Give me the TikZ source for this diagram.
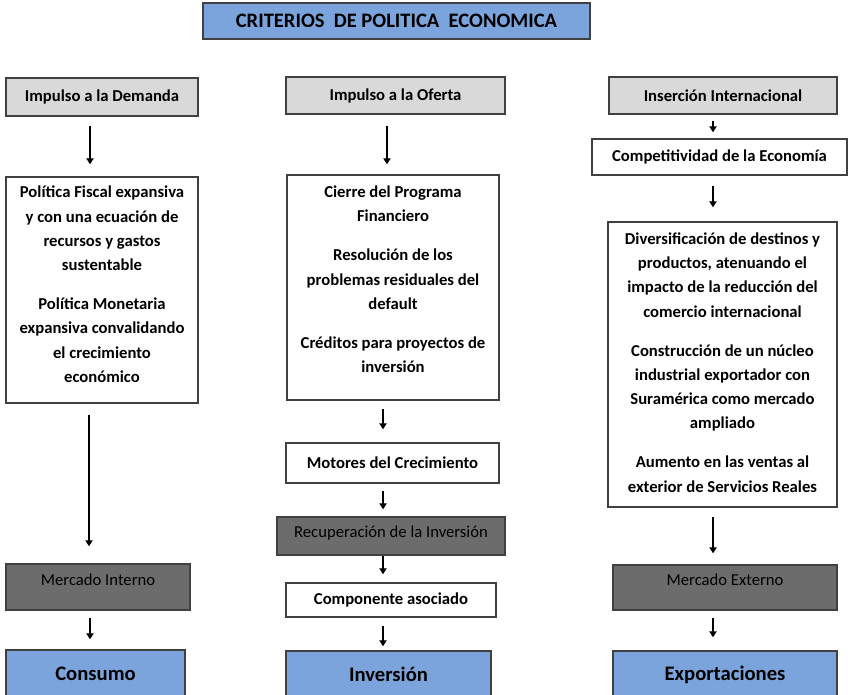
\documentclass[tikz,border=0pt]{standalone}
\usepackage{fontspec}
\setmainfont{Carlito}
\usepackage{xcolor}
\usetikzlibrary{arrows.meta, positioning}

\definecolor{boxline}{RGB}{64,64,64}
\definecolor{lightgray}{RGB}{217,217,217}
\definecolor{darkgray}{RGB}{108,108,108}
\definecolor{skyblue}{RGB}{124,164,220}

\begin{document}
\begin{tikzpicture}[
    x=0.75pt, y=-0.75pt,
    box/.style={rectangle, draw=boxline, line width=1.1pt, inner sep=2pt, align=center, text centered},
    titlebox/.style={box, fill=skyblue, font=\bfseries\fontsize{15.4}{18}\selectfont},
    headbox/.style={box, fill=lightgray, font=\bfseries\fontsize{12.5}{15}\selectfont},
    textbox/.style={box, fill=white, font=\bfseries\fontsize{12.5}{18.2}\selectfont},
    boxtext/.style={align=center, inner sep=0pt, font=\bfseries\fontsize{12.5}{18.2}\selectfont},
    darkbox/.style={box, fill=darkgray, text height=9pt, text depth=12pt, font=\fontsize{12.5}{15}\selectfont},
    resultbox/.style={box, fill=skyblue, font=\bfseries\fontsize{15.5}{18}\selectfont},
    arr/.style={-{Triangle[width=5.5pt,length=4.5pt]}, line width=0.9pt, draw=black}
]
\useasboundingbox (0,0) rectangle (848,694);
\clip (0,0) rectangle (848,694);

% Title
\node[titlebox, minimum width=290.25pt, minimum height=27pt] (title) at (396.5,21) {CRITERIOS\ \ DE POLITICA\ \ ECONOMICA};

% Demand column
\node[headbox, minimum width=144pt, minimum height=28.5pt] (dem) at (102,97) {Impulso a la Demanda};
\node[textbox, minimum width=144pt, minimum height=169.5pt] (dembox) at (102,290) {};
\node[boxtext] (demtext) at ([yshift=4.2pt]dembox.center) {Política Fiscal expansiva\\y con una ecuación de\\recursos y gastos\\sustentable\\[11pt]Política Monetaria\\expansiva convalidando\\el crecimiento\\económico};
\node[darkbox, minimum width=138pt, minimum height=34.5pt] (mint) at (98,587) {Mercado Interno};
\node[resultbox, minimum width=134.25pt, minimum height=36pt] (cons) at (95.5,674) {Consumo};

% Supply column
\node[headbox, minimum width=164.25pt, minimum height=27.75pt] (ofe) at (395.5,95.5) {Impulso a la Oferta};
\node[textbox, minimum width=159pt, minimum height=168.75pt] (ofebox) at (393,287.5) {};
\node[boxtext] (ofetext) at ([yshift=6.2pt]ofebox.center) {Cierre del Programa\\Financiero\\[11pt]Resolución de los\\problemas residuales del\\default\\[11pt]Créditos para proyectos de\\inversión};
\node[textbox, minimum width=159.75pt, minimum height=30pt] (mot) at (392.5,463) {Motores del Crecimiento};
\node[darkbox, minimum width=171pt, minimum height=28.5pt, text depth=7.5pt] (rec) at (391,536) {Recuperación de la Inversión};
\node[textbox, minimum width=157.5pt, minimum height=25.5pt] (comp) at (391,600) {Componente asociado};
\node[resultbox, minimum width=153.75pt, minimum height=35.25pt] (inv) at (388.5,674.5) {Inversión};

% International column
\node[headbox, minimum width=171pt, minimum height=27.75pt] (ins) at (723,95.5) {Inserción Internacional};
\node[textbox, minimum width=191.25pt, minimum height=27pt] (compet) at (719.5,157) {Competitividad de la Economía};
\node[textbox, minimum width=171.75pt, minimum height=213.75pt] (rbox) at (722.5,364.5) {};
\node[boxtext] (rtext) at ([yshift=1.5pt]rbox.center) {Diversificación de destinos y\\productos, atenuando el\\impacto de la reducción del\\comercio internacional\\[11pt]Construcción de un núcleo\\industrial exportador con\\Suramérica como mercado\\ampliado\\[11pt]Aumento en las ventas al\\exterior de Servicios Reales};
\node[darkbox, minimum width=168pt, minimum height=33.75pt] (mext) at (725,587.5) {Mercado Externo};
\node[resultbox, minimum width=168pt, minimum height=35.25pt] (exp) at (725,674.5) {Exportaciones};

% Arrows
\draw[arr, shorten <=6.75pt, shorten >=9pt] ([xshift=-9pt]dem.south) coordinate (a1) -- (a1 |- dembox.north);
\draw[arr, shorten <=8.25pt, shorten >=12.75pt] ([xshift=-9.75pt]dembox.south) coordinate (a2) -- (a2 |- mint.north);
\draw[arr, shorten <=5.25pt, shorten >=7.5pt] ([xshift=-6pt]mint.south) coordinate (a3) -- (a3 |- cons.north);
\draw[arr, shorten <=8.25pt, shorten >=7.5pt] ([xshift=-6.4pt]ofe.south) coordinate (b1) -- (b1 |- ofebox.north);
\draw[arr, shorten <=6pt, shorten >=9.75pt] ([xshift=-7.5pt]ofebox.south) coordinate (b2) -- (b2 |- mot.north);
\draw[arr, shorten <=5.25pt, shorten >=5.25pt] ([xshift=-7.1pt]mot.south) coordinate (b3) -- (b3 |- rec.north);
\draw[arr, shorten >=6pt] ([xshift=-6pt]rec.south) coordinate (b4) -- (b4 |- comp.north);
\draw[arr, shorten <=6pt, shorten >=3pt] ([xshift=-6pt]comp.south) coordinate (b5) -- (b5 |- inv.north);
\draw[arr, shorten <=4.5pt, shorten >=4.5pt] ([xshift=-7.5pt]ins.south) coordinate (c1) -- (c1 |- compet.north);
\draw[arr, shorten <=7.5pt, shorten >=10.5pt] ([xshift=-4.9pt]compet.south) coordinate (c2) -- (c2 |- rbox.north);
\draw[arr, shorten <=6.75pt, shorten >=8.25pt] ([xshift=-7.1pt]rbox.south) coordinate (c3) -- (c3 |- mext.north);
\draw[arr, shorten <=5.25pt, shorten >=9.75pt] ([xshift=-9pt]mext.south) coordinate (c4) -- (c4 |- exp.north);

\end{tikzpicture}
\end{document}
